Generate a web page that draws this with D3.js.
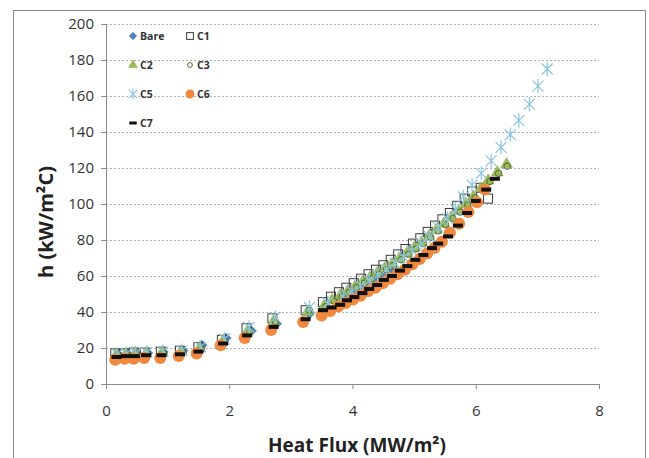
<!DOCTYPE html>
<html>
<head>
<meta charset="utf-8">
<script src="https://cdn.jsdelivr.net/npm/d3@7"></script>
<style>
  body { margin: 0; background: #fff; }
  svg { display: block; font-family: "Open Sans", sans-serif; }
</style>
</head>
<body>
<div id="chart"></div>
<script>
// data: heat flux (MW/m2) and h (kW/m2C) per series
const bareX = [0.2,0.35,0.5,0.68,0.93,1.25,1.56,1.95,2.36,2.77,3.3,3.58,3.72,3.85,3.98,4.1,4.22,4.35,4.47,4.6];
const bareH = [16.5,16.8,17,17.2,17.8,18.5,21.5,25.5,29.5,33.5,39,43,46,48.5,51,53.5,56,58.5,61,63.5];

const c1X = [0.15,0.3,0.45,0.63,0.89,1.2,1.5,1.88,2.28,2.7,3.24,3.52,3.65,3.78,3.9,4.02,4.14,4.26,4.38,4.5,4.62,4.74,4.86,4.98,5.1,5.22,5.34,5.46,5.58,5.7,5.82,5.94,6.08,6.2];
const c1H = [17,17,17.5,17.5,18,18.5,20.5,24.5,31,36.5,41,45.5,48.5,51,53.5,56,58.5,61,63.5,66,69,72,75,78,81,84.5,88,91.5,95,99,103,107,109,103];

const c2X = [0.17,0.32,0.47,0.65,0.91,1.22,1.52,1.9,2.3,2.72,3.27,3.54,3.67,3.8,3.92,4.04,4.16,4.28,4.4,4.52,4.64,4.76,4.88,5.0,5.12,5.24,5.36,5.48,5.6,5.72,5.84,5.96,6.08,6.2,6.35,6.5];
const c2H = [16.5,16.5,17,17,17.5,18,20,24,29.5,35,40,43.5,46.5,49,51.5,54,56.5,59,61.5,64,66.5,69.5,72.5,75.5,78.5,82,85.5,89,92.5,96,100,104,108.5,113,117.5,122];

const c3X = [0.2,0.35,0.5,0.68,0.94,1.25,1.55,1.93,2.33,2.75,3.3,3.57,3.7,3.83,3.95,4.07,4.19,4.31,4.43,4.55,4.67,4.79,4.91,5.03,5.15,5.27,5.39,5.51,5.63,5.75,5.87,5.99,6.11,6.23,6.37,6.51];
const c3H = [16,16,16.5,16.5,17,17.5,19.5,23.5,29,34.5,41,43,46,48.5,51,53.5,56,58.5,61,63.5,66,69,72,75,78,81.5,85,88.5,92,95.5,99.5,103.5,108,112.5,117,121];

const c5X = [0.18,0.33,0.48,0.66,0.92,1.23,1.53,1.92,2.32,2.75,3.3,3.6,3.85,3.99,4.13,4.27,4.41,4.55,4.69,4.83,4.97,5.11,5.25,5.39,5.54,5.67,5.8,5.94,6.09,6.25,6.41,6.56,6.7,6.87,7.01,7.16];
const c5H = [16.5,16.8,17,17.5,18,18.5,20.5,25,31.5,37,42.5,45,48.5,51.5,54.5,57.5,60.5,63.5,67,70.5,74,78,82,87,92,97,104,110.5,117,124,131.5,138.5,146.5,155.5,165.5,175];

const c6X = [0.15,0.3,0.45,0.62,0.88,1.18,1.47,1.86,2.25,2.68,3.2,3.5,3.64,3.77,3.89,4.01,4.13,4.25,4.37,4.49,4.61,4.73,4.85,4.97,5.09,5.21,5.33,5.45,5.58,5.73,5.88,6.02,6.15];
const c6H = [13.5,14,14,14.5,14.5,15.5,17,21.5,25.5,30,34.5,38,40.5,43,45,47,49,51.5,53.5,56,58.5,61,63.5,66.5,69.5,72.5,75.5,79,84,89,95.5,101,108];

const c7X = [0.17,0.32,0.47,0.65,0.9,1.2,1.5,1.9,2.29,2.72,3.24,3.52,3.66,3.8,3.91,4.03,4.16,4.27,4.4,4.51,4.64,4.77,4.89,5.02,5.15,5.29,5.39,5.55,5.71,5.86,6.0,6.17,6.31];
const c7H = [15,15.5,15.5,16,16,16.5,18,22.5,27,31.7,36,41,42.5,44,46.5,48.3,50.5,52.8,55,57.8,60,63,65.5,69,71.7,75.5,78,82,88,95,101.7,108,114];

const xTicks = [0, 2, 4, 6, 8];
const yTicks = [0, 20, 40, 60, 80, 100, 120, 140, 160, 180, 200];

const series = [
  {name: "Bare", xs: bareX, hs: bareH, kind: "diamond"},
  {name: "C1", xs: c1X, hs: c1H, kind: "square"},
  {name: "C2", xs: c2X, hs: c2H, kind: "triangle"},
  {name: "C3", xs: c3X, hs: c3H, kind: "ring"},
  {name: "C5", xs: c5X, hs: c5H, kind: "star"},
  {name: "C6", xs: c6X, hs: c6H, kind: "dot"},
  {name: "C7", xs: c7X, hs: c7H, kind: "dash"}
];

const W = 649, H = 458;
const margin = {top: 24, right: 50, bottom: 74, left: 106},
    width = W - margin.left - margin.right,
    height = H - margin.top - margin.bottom;

const svg = d3.select("#chart")
  .append("svg")
    .attr("width", W)
    .attr("height", H);

// outer chart frame
svg.append("rect")
  .attr("x", 13.5).attr("y", 10.5)
  .attr("width", 632).attr("height", 460)
  .attr("fill", "none").attr("stroke", "#8a8a8a");

const g = svg.append("g")
  .attr("transform", `translate(${margin.left},${margin.top})`);

const x = d3.scaleLinear().domain([0, 8]).range([0, width]);
const y = d3.scaleLinear().domain([0, 200]).range([height, 0]);

// gridlines
g.selectAll(".grid")
  .data(yTicks.filter(d => d > 0))
  .join("line")
    .attr("x1", 0).attr("x2", width)
    .attr("y1", d => Math.round(y(d)) + 0.5).attr("y2", d => Math.round(y(d)) + 0.5)
    .attr("stroke", "#b0b0b0")
    .attr("stroke-dasharray", "2,2");

// axes
const yAxis = g.append("g")
  .call(d3.axisLeft(y).tickValues(yTicks).tickSize(5).tickPadding(7));
const xAxis = g.append("g")
  .attr("transform", `translate(0,${height})`)
  .call(d3.axisBottom(x).tickValues(xTicks).tickSize(5).tickPadding(16));

[xAxis, yAxis].forEach(a => {
  a.selectAll("path, line").attr("stroke", "#8a8a8a");
  a.selectAll("text").attr("fill", "#333").style("font-size", "15px")
    .style("font-family", "'Open Sans', sans-serif");
});

// axis titles
svg.append("text")
  .attr("x", 357).attr("y", 452)
  .attr("text-anchor", "middle")
  .attr("font-size", 19).attr("font-weight", "bold").attr("fill", "#222")
  .text("Heat Flux (MW/m²)");

svg.append("text")
  .attr("transform", "translate(53,222) rotate(-90)")
  .attr("text-anchor", "middle")
  .attr("font-size", 20).attr("font-weight", "bold").attr("fill", "#222")
  .text("h (kW/m²C)");

// marker drawing
function drawMarker(sel, kind, s) {
  if (kind === "diamond") {
    const r = 5 * s;
    sel.append("path").attr("d", `M0,${-r}L${r},0L0,${r}L${-r},0Z`)
      .attr("fill", "#4f81bd").attr("stroke", "#3f6ea5").attr("stroke-width", 0.5);
  } else if (kind === "square") {
    sel.append("rect").attr("x", -4.5 * s).attr("y", -4.5 * s)
      .attr("width", 9 * s).attr("height", 9 * s)
      .attr("fill", "none").attr("stroke", "#3a3a3a").attr("stroke-width", 1);
  } else if (kind === "triangle") {
    sel.append("path").attr("d", d3.symbol(d3.symbolTriangle, 60 * s * s))
      .attr("fill", "#9bbb59").attr("stroke", "#86a64a").attr("stroke-width", 0.5);
  } else if (kind === "ring") {
    sel.append("circle").attr("r", 3.2 * s)
      .attr("fill", "none").attr("stroke", "#4f6a36").attr("stroke-width", 1);
  } else if (kind === "star") {
    const r = 5.5 * s;
    sel.append("path")
      .attr("d", `M${-r},${-r}L${r},${r}M${-r},${r}L${r},${-r}M0,${-r * 1.3}L0,${r * 1.3}`)
      .attr("fill", "none").attr("stroke", "#8cc6de").attr("stroke-width", 1.2);
  } else if (kind === "dot") {
    sel.append("circle").attr("r", 6 * s).attr("fill", "#f0883e");
  } else if (kind === "dash") {
    sel.append("rect").attr("x", -5 * s).attr("y", -2 * s)
      .attr("width", 10 * s).attr("height", 4 * s).attr("fill", "#111");
  }
}

// points, series in drawing order
series.forEach(sr => {
  const pts = sr.xs.map((v, i) => ({v: v, h: sr.hs[i]}));
  g.append("g").selectAll("g")
    .data(pts)
    .join("g")
      .attr("transform", d => `translate(${x(d.v)},${y(d.h)})`)
      .each(function() { drawMarker(d3.select(this), sr.kind, 1); });
});

// legend
const legendPos = [[133, 36], [190, 36], [133, 65], [190, 65], [133, 94], [190, 94], [133, 123]];
series.forEach((sr, i) => {
  const lg = svg.append("g").attr("transform", `translate(${legendPos[i][0]},${legendPos[i][1]})`);
  drawMarker(lg, sr.kind, 0.75);
  lg.append("text").attr("x", 7).attr("y", 4)
    .attr("font-size", 10.5).attr("font-weight", "bold").attr("fill", "#333")
    .text(sr.name);
});
</script>
</body>
</html>
